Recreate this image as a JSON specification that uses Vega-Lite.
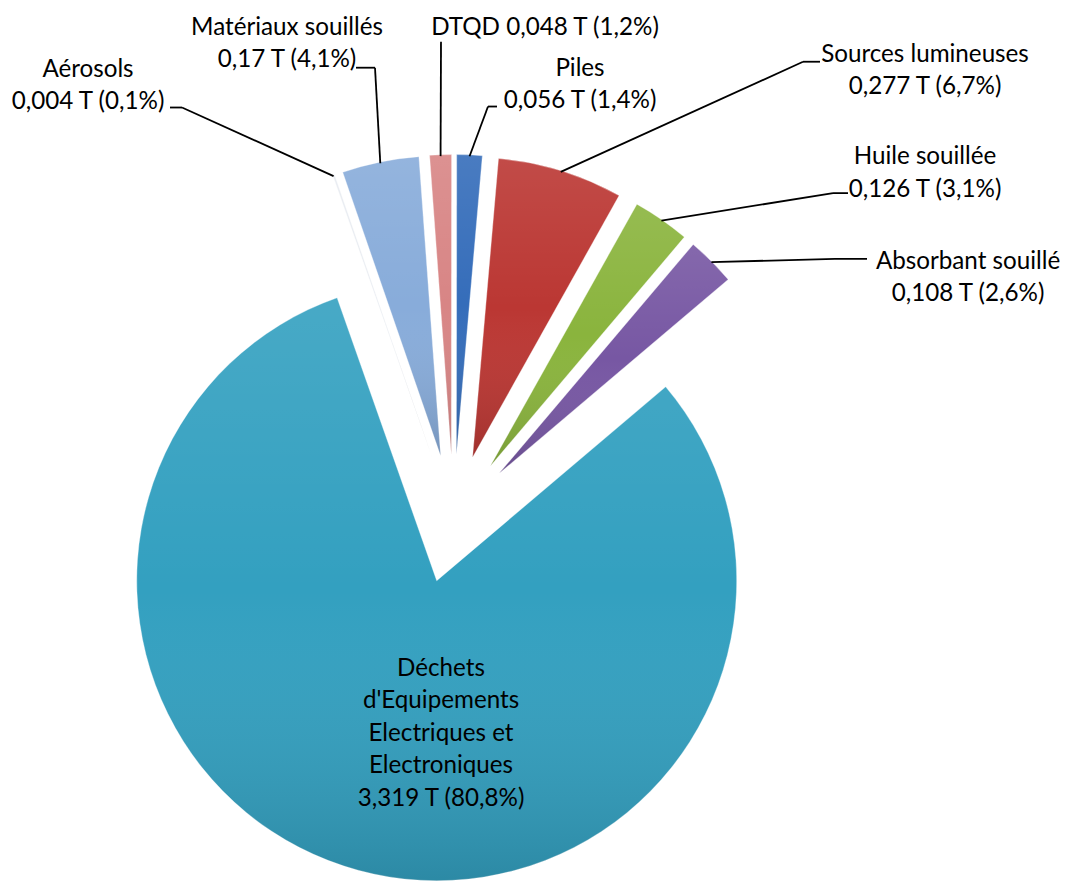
{
  "$schema": "https://vega.github.io/schema/vega-lite/v6.json",
  "width": 1066,
  "height": 882,
  "autosize": {"type": "fit", "contains": "padding"},
  "padding": 0,
  "background": "white",
  "config": {"view": {"stroke": null}},
  "data": {
    "values": [
      {"name": "Aérosols", "tonnes": 0.004},
      {"name": "Matériaux souillés", "tonnes": 0.17},
      {"name": "DTQD", "tonnes": 0.048},
      {"name": "Piles", "tonnes": 0.056},
      {"name": "Sources lumineuses", "tonnes": 0.277},
      {"name": "Huile souillée", "tonnes": 0.126},
      {"name": "Absorbant souillé", "tonnes": 0.108},
      {"name": "Déchets d'Equipements Electriques et Electroniques", "tonnes": 3.319}
    ]
  },
  "transform": [
    {"window": [{"op": "row_number", "as": "rn"}, {"op": "sum", "field": "tonnes", "as": "cum"}], "frame": [null, 0]},
    {"joinaggregate": [{"op": "sum", "field": "tonnes", "as": "total"}]},
    {"calculate": "(datum.cum - datum.tonnes) / datum.total", "as": "f0"},
    {"calculate": "datum.cum / datum.total", "as": "f1"},
    {"calculate": "datum.tonnes / datum.total", "as": "pct"},
    {"calculate": "-0.3386 + PI * (datum.f0 + datum.f1)", "as": "mid"},
    {"calculate": "0.215 * sin(datum.mid)", "as": "cx"},
    {"calculate": "0.215 * cos(datum.mid)", "as": "cy"},
    {"calculate": "1.215 * sin(datum.mid)", "as": "px"},
    {"calculate": "1.215 * cos(datum.mid)", "as": "py"},
    {"calculate": "[-1.2187, -0.5553, 0.3047, 0.4213, 1.5713, 1.5713, 1.7147, -0.042][datum.rn - 1]", "as": "lx"},
    {"calculate": "[1.5037, 1.6437, 1.6437, 1.507, 1.5537, 1.2103, 0.8603, -0.503][datum.rn - 1]", "as": "ly"},
    {"calculate": "[-0.9053, -0.262, -0.042, 0.1147, 1.1647, 1.2647, 1.2713, 0][datum.rn - 1]", "as": "qx"},
    {"calculate": "[1.377, 1.5103, 1.597, 1.3803, 1.5303, 1.0903, 0.8703, 0][datum.rn - 1]", "as": "qy"},
    {"calculate": "[-0.9453, -0.3253, -0.042, 0.1447, 1.2213, 1.3147, 1.378, 0][datum.rn - 1]", "as": "tx"},
    {"calculate": "replace(format(datum.tonnes, '.3~f'), '.', ',') + ' T (' + replace(format(datum.pct, '.1%'), '.', ',') + ')'", "as": "valtxt"},
    {"calculate": "datum.pct > 0.5 ? replace(datum.name, regexp(' (?!et )', 'g'), '\\n') + '\\n' + datum.valtxt : (length(datum.name) <= 4 ? datum.name + ' ' + datum.valtxt : datum.name + '\\n' + datum.valtxt)", "as": "label"}
  ],
  "layer": [
    {
      "mark": {"type": "arc", "radius": 300, "stroke": "white", "strokeOpacity": 0.35, "strokeWidth": 1},
      "encoding": {
        "x": {"field": "cx", "type": "quantitative", "scale": {"domain": [-1.512, 2.0413], "nice": false, "zero": false}, "axis": null},
        "y": {"field": "cy", "type": "quantitative", "scale": {"domain": [-1.203, 1.737], "nice": false, "zero": false}, "axis": null},
        "theta": {"field": "f0", "type": "quantitative", "stack": null, "scale": {"domain": [0, 1], "range": [-0.3386, 5.9446]}},
        "theta2": {"field": "f1"},
        "color": {
          "field": "name",
          "type": "nominal",
          "legend": null,
          "scale": {
            "domain": ["Aérosols", "Matériaux souillés", "DTQD", "Piles", "Sources lumineuses", "Huile souillée", "Absorbant souillé", "Déchets d'Equipements Electriques et Electroniques"],
            "range": ["#E6EAF0", "#88ACDA", "#D88585", "#356DBA", "#BB3733", "#8AB43D", "#7757A3", "#33A0C0"]
          }
        }
      }
    },
    {
      "mark": {
        "type": "arc",
        "radius": 300,
        "fill": {
          "gradient": "linear", "x1": 0, "y1": 0, "x2": 0, "y2": 1,
          "stops": [
            {"offset": 0, "color": "rgba(255,255,255,0.1)"},
            {"offset": 0.5, "color": "rgba(255,255,255,0)"},
            {"offset": 1, "color": "rgba(0,0,0,0.14)"}
          ]
        }
      },
      "encoding": {
        "x": {"field": "cx", "type": "quantitative", "scale": {"domain": [-1.512, 2.0413], "nice": false, "zero": false}, "axis": null},
        "y": {"field": "cy", "type": "quantitative", "scale": {"domain": [-1.203, 1.737], "nice": false, "zero": false}, "axis": null},
        "theta": {"field": "f0", "type": "quantitative", "stack": null, "scale": {"domain": [0, 1], "range": [-0.3386, 5.9446]}},
        "theta2": {"field": "f1"}
      }
    },
    {
      "transform": [{"filter": "datum.pct < 0.5"}],
      "mark": {"type": "rule", "color": "black", "strokeWidth": 1.8},
      "encoding": {
        "x": {"field": "px", "type": "quantitative", "scale": {"domain": [-1.512, 2.0413], "nice": false, "zero": false}, "axis": null},
        "y": {"field": "py", "type": "quantitative", "scale": {"domain": [-1.203, 1.737], "nice": false, "zero": false}, "axis": null},
        "x2": {"field": "qx"},
        "y2": {"field": "qy"}
      }
    },
    {
      "transform": [{"filter": "datum.pct < 0.5"}],
      "mark": {"type": "rule", "color": "black", "strokeWidth": 1.8},
      "encoding": {
        "x": {"field": "qx", "type": "quantitative", "scale": {"domain": [-1.512, 2.0413], "nice": false, "zero": false}, "axis": null},
        "y": {"field": "qy", "type": "quantitative", "scale": {"domain": [-1.203, 1.737], "nice": false, "zero": false}, "axis": null},
        "x2": {"field": "tx"},
        "y2": {"field": "qy"}
      }
    },
    {
      "mark": {"type": "text", "font": "Lato", "fontSize": 24.2, "lineHeight": 32.5, "lineBreak": "\n", "align": "center", "baseline": "middle", "color": "#000000"},
      "encoding": {
        "x": {"field": "lx", "type": "quantitative", "scale": {"domain": [-1.512, 2.0413], "nice": false, "zero": false}, "axis": null},
        "y": {"field": "ly", "type": "quantitative", "scale": {"domain": [-1.203, 1.737], "nice": false, "zero": false}, "axis": null},
        "text": {"field": "label"}
      }
    }
  ]
}
